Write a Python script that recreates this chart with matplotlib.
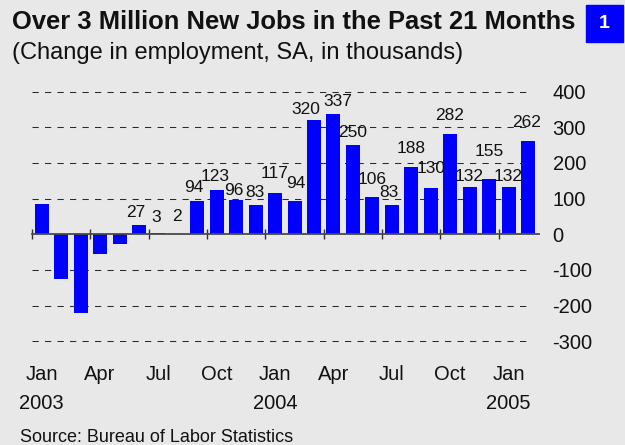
import numpy as np
import matplotlib
matplotlib.use('Agg')
from matplotlib import pyplot as plt
from matplotlib import transforms
from matplotlib.patches import Rectangle

plt.rcParams['font.family'] = ['Liberation Sans', 'DejaVu Sans']
plt.rcParams['axes.unicode_minus'] = False

# monthly change in payroll employment, Jan 2003 .. Feb 2005 (thousands)
changes = [85, -125, -220, -55, -28, 27, 3, 2, 94, 123, 96, 83,
           117, 94, 320, 337, 250, 106, 83, 188, 130, 282, 132, 155,
           132, 262]
first_labelled = 5  # labels only on the past 21 months (Jun 2003 on)
month_names = ['Jan', 'Apr', 'Jul', 'Oct', 'Jan', 'Apr', 'Jul', 'Oct', 'Jan']
month_index = [0, 3, 6, 9, 12, 15, 18, 21, 24]
years = ['2003', '2004', '2005']
year_index = [0, 12, 24]
yticks = [-300, -200, -100, 0, 100, 200, 300, 400]

# nudges (pixels) for value labels, as they sit in the original
label_dx = [-3, -2, -1, -4, -2, -2, -1, -1, 1, -8, 4, 0, 0, -3, 0, 0, -1, 0, 0, 0, -1]
label_dy = [12, 16, 17, 13, 14, 9.5, 12.5, 19.5, 17.5, 10.5, 12.5, 13, 17.5, 12,
            19, 19, 18.5, 11, 27.5, 11, 18]

BG = '#e8e8e8'
W, H = 625, 445


def fx(px):
    return px / W


def fy(py):
    return 1 - py / H


fig = plt.figure(figsize=(6.25, 4.45), dpi=100, facecolor=BG)

pitch = 19.45
left_px = 32
xlim = (-0.5, 25.55)
ylim = (-310, 410)
unit = 35.65 / 100
top_px = 234.3 - ylim[1] * unit
bot_px = 234.3 - ylim[0] * unit
ax = fig.add_axes([fx(left_px), fy(bot_px),
                   (xlim[1] - xlim[0]) * pitch / W, (bot_px - top_px) / H])
ax.set_facecolor(BG)
ax.set_xlim(xlim)
ax.set_ylim(ylim)

x = np.arange(len(changes))
ax.bar(x, changes, width=0.72, color='#0000ff', zorder=3)

# dashed reference lines
grid = [v for v in yticks if v != 0]
ax.hlines(grid, -0.5, 25.2, colors='#2a2a2a', linestyles=(0, (6, 6)),
          linewidth=0.75, zorder=1)

for s in ['top', 'right', 'left']:
    ax.spines[s].set_visible(False)
ax.spines['bottom'].set_position(('data', 0))
ax.spines['bottom'].set_color('#4a4a4a')
ax.spines['bottom'].set_linewidth(1.3)
ax.spines['bottom'].set_zorder(4)

ax.set_xticks(np.arange(-0.5, 24, 3))
ax.tick_params(axis='x', direction='inout', length=7.5, width=1.0,
               color='#333333', labelbottom=False)

ax.yaxis.tick_right()
ax.set_yticks(yticks)
ax.set_yticklabels([str(v) for v in yticks])
ax.tick_params(axis='y', length=0, pad=10, labelsize=14.5, labelcolor='#111111')

for k, i in enumerate(range(first_labelled, len(changes))):
    ax.annotate(str(changes[i]), (i, changes[i]),
                xytext=(label_dx[k], label_dy[k]), textcoords='offset pixels',
                ha='center', va='center', fontsize=12.5, color='#111111', zorder=5)

tr = transforms.blended_transform_factory(ax.transData, fig.transFigure)
for name, i in zip(month_names, month_index):
    ax.text(i, fy(380), name, transform=tr, ha='center', va='baseline',
            fontsize=14.5, color='#111111')
for name, i in zip(years, year_index):
    ax.text(i, fy(409), name, transform=tr, ha='center', va='baseline',
            fontsize=14.5, color='#111111')

fig.text(fx(11.5), fy(29), 'Over 3 Million New Jobs in the Past 21 Months',
         fontsize=18.4, fontweight='bold', va='baseline', color='#111111')
fig.text(fx(11.5), fy(59.5), '(Change in employment, SA, in thousands)',
         fontsize=17, va='baseline', color='#111111')
fig.patches.append(Rectangle((fx(586), fy(41.7)), fx(36.7), 36.7 / H,
                             transform=fig.transFigure, color='#0000ff'))
fig.text(fx(604.3), fy(23.3), '1', fontsize=14, fontweight='bold', color='white',
         ha='center', va='center')
fig.text(fx(20.5), fy(442.3), 'Source: Bureau of Labor Statistics',
         fontsize=13, va='baseline', color='#111111')

fig.savefig('out.png', dpi=100, facecolor=BG)
